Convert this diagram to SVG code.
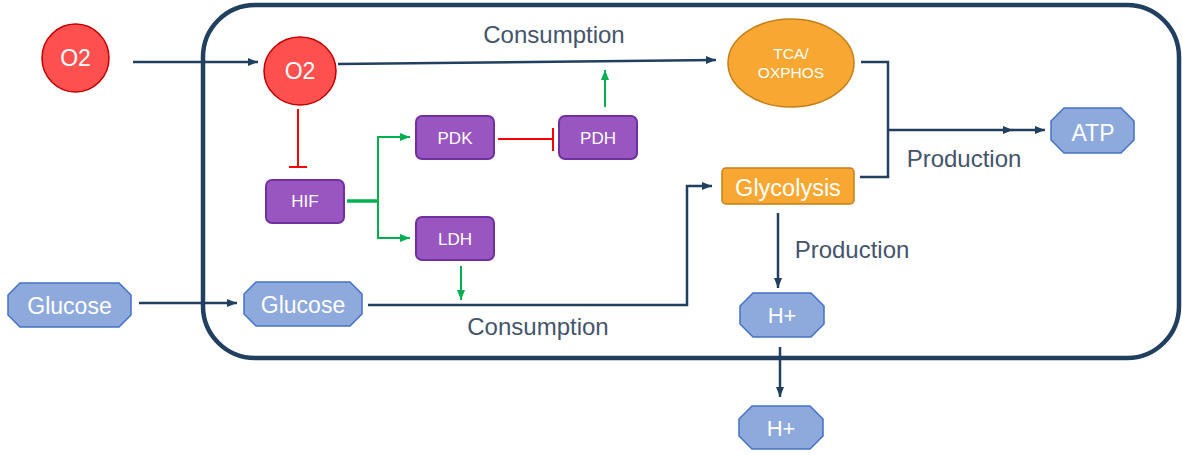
<svg xmlns="http://www.w3.org/2000/svg" width="1182" height="455" viewBox="0 0 1182 455">
<defs>
<style>
text{font-family:"Liberation Sans",Arial,sans-serif;text-anchor:middle;fill:#ffffff}
.lbl{fill:#44546A;font-size:24px}
.red{fill:#FF5050;stroke:#C00000;stroke-width:1.5}
.pur{fill:#9955C0;stroke:#7030A0;stroke-width:2}
.org{fill:#F8A832;stroke:#C47F17;stroke-width:1.5}
.oct{fill:#8EA9DB;stroke:#4472C4;stroke-width:1.5}
.nav{stroke:#213F5E;stroke-width:2.5;fill:none}
.grn{stroke:#00B050;stroke-width:2;fill:none}
.rd{stroke:#FF0000;stroke-width:2;fill:none}
</style>
<marker id="an" markerUnits="userSpaceOnUse" markerWidth="10" markerHeight="10" viewBox="0 0 10 10" refX="10" refY="5" orient="auto"><path d="M0,1 L10,5 L0,9 Z" fill="#213F5E"/></marker>
<marker id="ag" markerUnits="userSpaceOnUse" markerWidth="10" markerHeight="10" viewBox="0 0 10 10" refX="10" refY="5" orient="auto"><path d="M0,1 L10,5 L0,9 Z" fill="#00B050"/></marker>
</defs>
<g id="cell"><rect x="203" y="5" width="976" height="353" rx="52" ry="52" fill="none" stroke="#213F5E" stroke-width="4.5"/></g>
<g id="connectors">
<line class="nav" x1="133" y1="62" x2="258" y2="62" marker-end="url(#an)"/>
<line class="nav" x1="338" y1="64" x2="716" y2="60" marker-end="url(#an)"/>
<polyline class="nav" points="861,62 888,62 888,177 860,177"/>
<line class="nav" x1="888" y1="130" x2="1013" y2="130" marker-end="url(#an)"/>
<line class="nav" x1="1012" y1="130" x2="1045" y2="130" marker-end="url(#an)"/>
<line class="nav" x1="139" y1="303" x2="237" y2="303" marker-end="url(#an)"/>
<polyline class="nav" points="368,305 687,305 687,186 712,186" marker-end="url(#an)"/>
<line class="nav" x1="778" y1="213" x2="778" y2="288" marker-end="url(#an)"/>
<line class="nav" x1="780" y1="347" x2="780" y2="397" marker-end="url(#an)"/>
<line class="rd" x1="298" y1="109" x2="298" y2="167"/>
<line class="rd" x1="289" y1="167" x2="307" y2="167"/>
<line class="rd" x1="498" y1="139" x2="553" y2="139"/>
<line class="rd" x1="553" y1="128" x2="553" y2="151"/>
<line stroke="#00B050" stroke-width="3.5" x1="347" y1="201" x2="379" y2="201"/>
<line class="grn" x1="378" y1="137" x2="378" y2="238"/>
<line class="grn" x1="377" y1="137" x2="410" y2="137" marker-end="url(#ag)"/>
<line class="grn" x1="377" y1="238" x2="410" y2="238" marker-end="url(#ag)"/>
<line class="grn" x1="605" y1="107" x2="605" y2="70" marker-end="url(#ag)"/>
<line class="grn" x1="461" y1="266" x2="461" y2="300" marker-end="url(#ag)"/>
</g>
<g id="labels">
<text class="lbl" x="554" y="43">Consumption</text>
<text class="lbl" x="538" y="335">Consumption</text>
<text class="lbl" x="964" y="167">Production</text>
<text class="lbl" x="852" y="258">Production</text>
</g>
<g id="o2-out"><ellipse class="red" cx="75.5" cy="58" rx="33.5" ry="34"/><text x="75.5" y="66" font-size="23">O2</text></g>
<g id="o2-in"><ellipse class="red" cx="300" cy="71" rx="36" ry="34"/><text x="300" y="79" font-size="23">O2</text></g>
<g id="tca"><ellipse class="org" cx="791" cy="63" rx="63" ry="44"/><text x="791" y="59" font-size="15.5">TCA/</text><text x="791" y="78" font-size="15.5">OXPHOS</text></g>
<g id="glycolysis"><rect class="org" x="722" y="168" width="132" height="36" rx="4"/><text x="788" y="196" font-size="23.5">Glycolysis</text></g>
<g id="hif"><rect class="pur" x="266" y="180" width="78" height="43" rx="6"/><text x="305" y="207" font-size="17">HIF</text></g>
<g id="pdk"><rect class="pur" x="416" y="116" width="78" height="43" rx="6"/><text x="455" y="144" font-size="17">PDK</text></g>
<g id="pdh"><rect class="pur" x="559" y="116" width="78" height="43" rx="6"/><text x="598" y="144" font-size="17">PDH</text></g>
<g id="ldh"><rect class="pur" x="416" y="217" width="78" height="43" rx="6"/><text x="455" y="245" font-size="17">LDH</text></g>
<g id="glucose-out"><polygon class="oct" points="20,283 119,283 131,295 131,315 119,327 20,327 8,315 8,295"/><text x="69.5" y="314" font-size="23">Glucose</text></g>
<g id="glucose-in"><polygon class="oct" points="256,282 350,282 362,294 362,314 350,326 256,326 244,314 244,294"/><text x="303" y="313" font-size="23">Glucose</text></g>
<g id="atp"><polygon class="oct" points="1064,108 1121,108 1134,121 1134,140 1121,153 1064,153 1051,140 1051,121"/><text x="1093" y="141" font-size="23">ATP</text></g>
<g id="h-in"><polygon class="oct" points="753,293 811,293 824,306 824,324 811,337 753,337 740,324 740,306"/><text x="782" y="323" font-size="22">H+</text></g>
<g id="h-out"><polygon class="oct" points="752,406 810,406 823,419 823,436 810,449 752,449 739,436 739,419"/><text x="781" y="436" font-size="22">H+</text></g>
</svg>
